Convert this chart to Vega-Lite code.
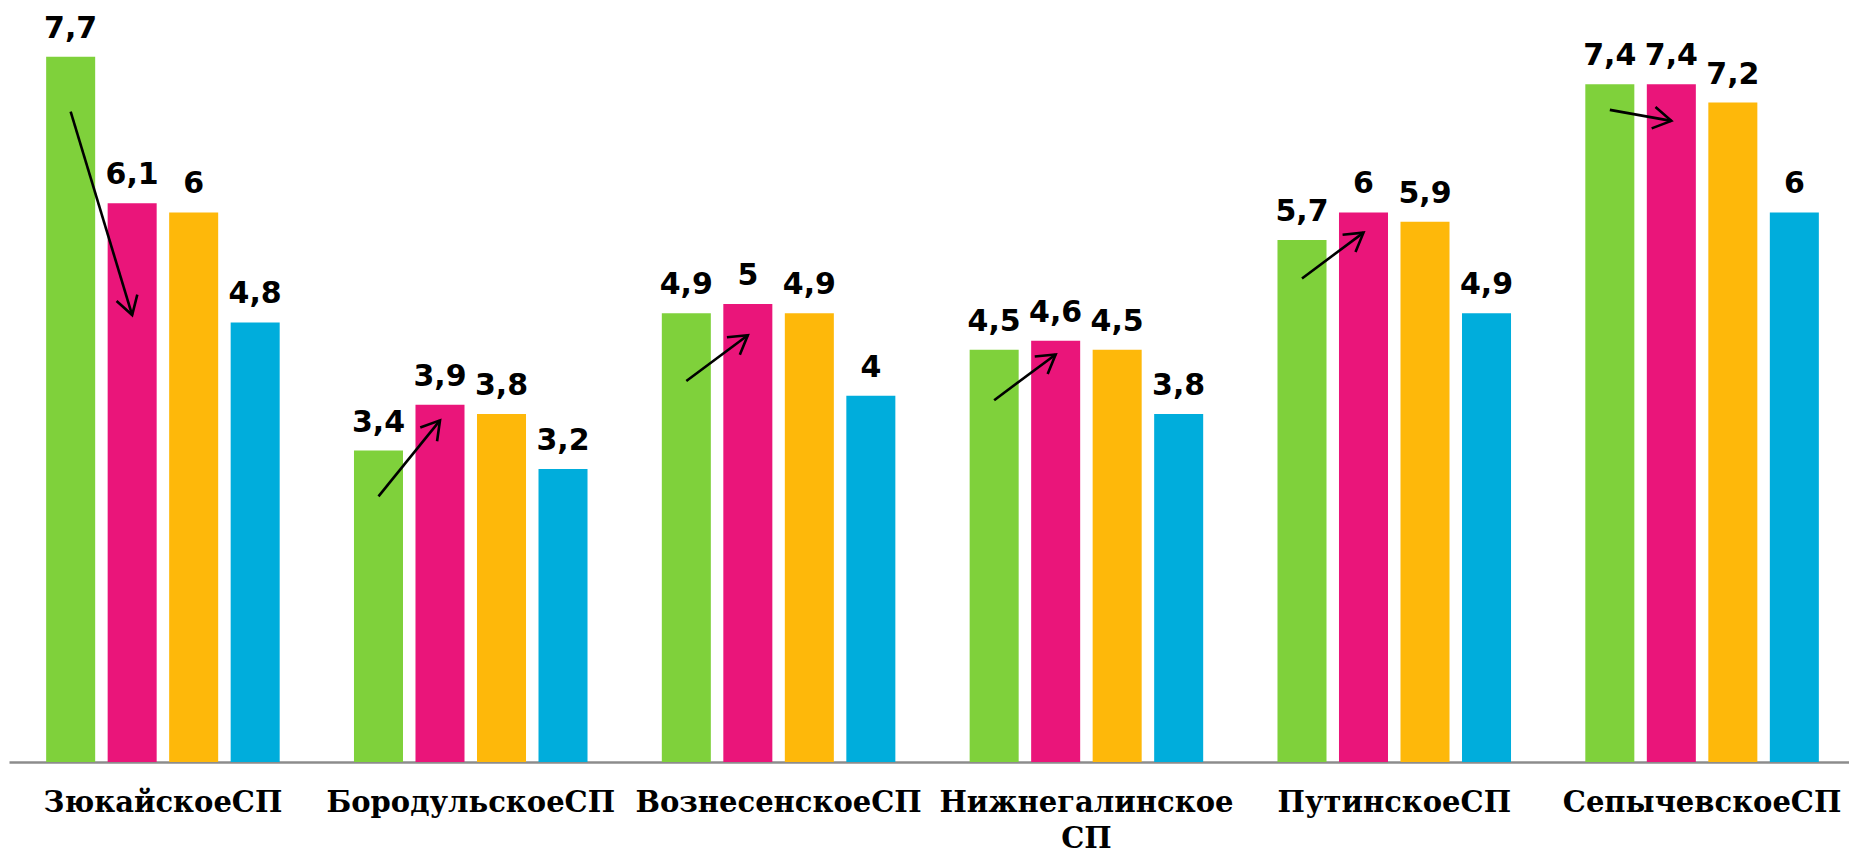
{
  "$schema": "https://vega.github.io/schema/vega-lite/v6.json",
  "width": 1847,
  "height": 762,
  "autosize": {"type": "none"},
  "padding": {"left": 9, "top": 0, "right": 0, "bottom": 92},
  "background": "white",
  "config": {"view": {"stroke": null}},
  "datasets": {
    "bars": [
      {"group": "ЗюкайскоеСП", "series": "Ряд 1", "value": 7.7},
      {"group": "ЗюкайскоеСП", "series": "Ряд 2", "value": 6.1},
      {"group": "ЗюкайскоеСП", "series": "Ряд 3", "value": 6},
      {"group": "ЗюкайскоеСП", "series": "Ряд 4", "value": 4.8},
      {"group": "БородульскоеСП", "series": "Ряд 1", "value": 3.4},
      {"group": "БородульскоеСП", "series": "Ряд 2", "value": 3.9},
      {"group": "БородульскоеСП", "series": "Ряд 3", "value": 3.8},
      {"group": "БородульскоеСП", "series": "Ряд 4", "value": 3.2},
      {"group": "ВознесенскоеСП", "series": "Ряд 1", "value": 4.9},
      {"group": "ВознесенскоеСП", "series": "Ряд 2", "value": 5},
      {"group": "ВознесенскоеСП", "series": "Ряд 3", "value": 4.9},
      {"group": "ВознесенскоеСП", "series": "Ряд 4", "value": 4},
      {"group": "Нижнегалинское СП", "series": "Ряд 1", "value": 4.5},
      {"group": "Нижнегалинское СП", "series": "Ряд 2", "value": 4.6},
      {"group": "Нижнегалинское СП", "series": "Ряд 3", "value": 4.5},
      {"group": "Нижнегалинское СП", "series": "Ряд 4", "value": 3.8},
      {"group": "ПутинскоеСП", "series": "Ряд 1", "value": 5.7},
      {"group": "ПутинскоеСП", "series": "Ряд 2", "value": 6},
      {"group": "ПутинскоеСП", "series": "Ряд 3", "value": 5.9},
      {"group": "ПутинскоеСП", "series": "Ряд 4", "value": 4.9},
      {"group": "СепычевскоеСП", "series": "Ряд 1", "value": 7.4},
      {"group": "СепычевскоеСП", "series": "Ряд 2", "value": 7.4},
      {"group": "СепычевскоеСП", "series": "Ряд 3", "value": 7.2},
      {"group": "СепычевскоеСП", "series": "Ряд 4", "value": 6}
    ],
    "arrows": [
      {"group": "ЗюкайскоеСП", "from": 7.10, "to": 4.88},
      {"group": "БородульскоеСП", "from": 2.90, "to": 3.73},
      {"group": "ВознесенскоеСП", "from": 4.16, "to": 4.66},
      {"group": "Нижнегалинское СП", "from": 3.95, "to": 4.45},
      {"group": "ПутинскоеСП", "from": 5.28, "to": 5.78},
      {"group": "СепычевскоеСП", "from": 7.12, "to": 7.00}
    ]
  },
  "layer": [
    {
      "data": {"name": "bars"},
      "mark": {"type": "bar"},
      "encoding": {
        "x": {
          "field": "group", "type": "nominal", "sort": null,
          "scale": {"paddingInner": 0, "paddingOuter": 0},
          "axis": {
            "title": null,
            "ticks": false,
            "labelAngle": 0,
            "domainColor": "#8c8c8c",
            "domainWidth": 2.5,
            "labelFont": "DejaVu Serif",
            "labelFontWeight": "bold",
            "labelFontSize": 29,
            "labelColor": "#000000",
            "labelPadding": 26,
            "labelLineHeight": 36,
            "labelLimit": 0,
            "labelExpr": "split(datum.label, ' ')"
          }
        },
        "xOffset": {
          "field": "series", "type": "nominal", "sort": null,
          "scale": {"paddingInner": 0.203, "paddingOuter": 0.604}
        },
        "y": {"field": "value", "type": "quantitative", "scale": {"domain": [0, 8.32], "nice": false, "zero": true}, "axis": null},
        "color": {
          "field": "series", "type": "nominal",
          "scale": {"domain": ["Ряд 1", "Ряд 2", "Ряд 3", "Ряд 4"], "range": ["#7FD13B", "#EA157A", "#FEB80A", "#00ADDC"]},
          "legend": null
        }
      }
    },
    {
      "data": {"name": "bars"},
      "transform": [{"calculate": "replace(toString(datum.value), '.', ',')", "as": "label"}],
      "mark": {"type": "text", "baseline": "alphabetic", "dy": -19, "font": "DejaVu Sans", "fontWeight": "bold", "fontSize": 30, "color": "#000000"},
      "encoding": {
        "x": {"field": "group", "type": "nominal", "sort": null, "title": null},
        "xOffset": {"field": "series", "type": "nominal", "sort": null},
        "y": {"field": "value", "type": "quantitative", "axis": null},
        "text": {"field": "label"}
      }
    },
    {
      "data": {"name": "arrows"},
      "transform": [
        {"fold": ["from", "to"], "as": ["key", "v"]},
        {"calculate": "datum.key == 'from' ? 'Ряд 1' : 'Ряд 2'", "as": "series"}
      ],
      "mark": {"type": "line", "color": "#000000", "strokeWidth": 2.6},
      "encoding": {
        "x": {"field": "group", "type": "nominal", "sort": null, "title": null},
        "xOffset": {"field": "series", "type": "nominal", "sort": null},
        "y": {"field": "v", "type": "quantitative", "axis": null},
        "detail": {"field": "group"}
      }
    },
    {
      "data": {"name": "arrows"},
      "transform": [
        {"calculate": "'Ряд 2'", "as": "series"},
        {"calculate": "atan2((datum.from - datum.to) * 91.56, 61.5) * 180 / PI", "as": "angle"}
      ],
      "mark": {"type": "point", "shape": "M -1 -0.6 L 0 0 L -1 0.6", "filled": false, "stroke": "#000000", "strokeWidth": 2.6, "size": 1300, "opacity": 1},
      "encoding": {
        "x": {"field": "group", "type": "nominal", "sort": null, "title": null},
        "xOffset": {"field": "series", "type": "nominal", "sort": null},
        "y": {"field": "to", "type": "quantitative", "axis": null},
        "angle": {"field": "angle", "type": "quantitative", "scale": null}
      }
    }
  ]
}
